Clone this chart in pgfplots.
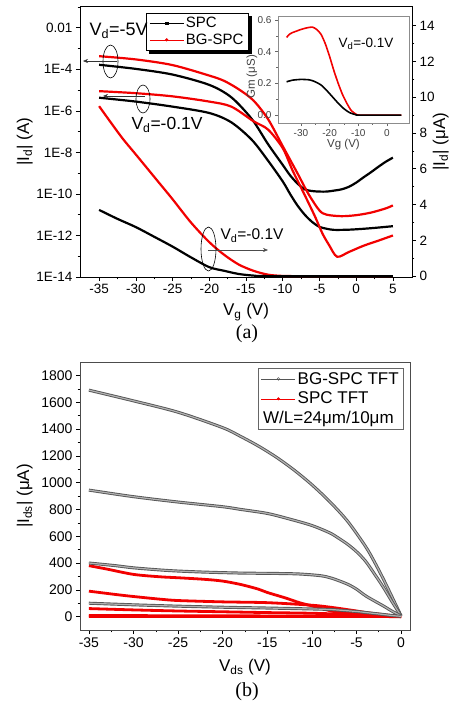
\documentclass[border=0pt]{standalone}
\usepackage{fontspec}
\setmainfont{Liberation Sans}
\newfontfamily\serif{Liberation Serif}
\usepackage{pgfplots}
\pgfplotsset{compat=1.18}
\usetikzlibrary{arrows.meta}
\definecolor{ored}{HTML}{F20000}
\definecolor{bgray}{HTML}{555555}

\newcommand\fs[1]{\fontsize{#1}{#1}\selectfont}

\pgfplotsset{
  ax/.style={scale only axis, /pgf/number format/assume math mode=true,
    axis line style={line width=0.7pt}, tick style={line width=0.6pt, black},
    major tick length=4pt, minor tick length=2.3pt, tick align=outside,
    tick label style={font=\fs{13.5}}, label style={font=\fs{17}}},
  leg/.style={legend cell align=left, legend image code/.code={\draw[mark repeat=2,mark phase=2,##1]
    plot coordinates {(0pt,0pt) (17pt,0pt) (34pt,0pt)};}},
}

\begin{document}
\begin{tikzpicture}
\useasboundingbox (0pt,0pt) rectangle (452pt,-702pt);

% ---- (a) log axis
\begin{axis}[ax, leg, at={(80pt,-277pt)}, anchor=south west, width=332pt, height=271pt,
  xmin=-37.6, xmax=7.6, ymode=log, ymin=1e-14, ymax=0.112, tick pos=left,
  xtick={-35,-30,...,5}, minor x tick num=1,
  ytick={1e-14,1e-12,1e-10,1e-8,1e-6,1e-4,1e-2},
  yticklabels={1E-14,1E-12,1E-10,1E-8,1E-6,1E-4,0.01},
  minor ytick={1e-13,1e-11,1e-9,1e-7,1e-5,1e-3,1e-1},
  xlabel={V\textsubscript{g} (V)}, ylabel={|I\textsubscript{d}| (A)},
  xlabel style={at={(axis description cs:0.5,-0.13)}, anchor=center},
  ylabel style={at={(axis description cs:-0.166,0.5)}, anchor=center},
  legend style={name=legA, at={(0.199,0.974)}, anchor=north west, draw=black, line width=0.6pt,
    font=\fs{15}, inner xsep=3pt, inner ysep=2pt, row sep=0.5pt},
  every axis plot/.append style={line width=2.2pt, smooth, tension=0.5}]
\addlegendimage{black, line width=0.6pt, mark=square*, mark size=1.3pt}
\addlegendentry{SPC}
\addlegendimage{ored, line width=0.6pt, mark=*, mark size=1.3pt}
\addlegendentry{BG-SPC}
% SPC, Vd=-5V
\addplot[black, forget plot] coordinates {(-35,1.66e-4) (-30,1.05e-4) (-25,5.6e-5) (-20,1.78e-5)
  (-17,4.5e-6) (-14.2,4.0e-7) (-12,2.5e-8) (-10,2.5e-9) (-9,7.9e-10) (-8,3.2e-10) (-7,1.66e-10)
  (-6,1.38e-10) (-5,1.3e-10) (-4,1.3e-10) (-3,1.45e-10) (-2,1.66e-10) (-1,2.2e-10) (0,3.5e-10)
  (1,6.3e-10) (2,1.1e-9) (3,2.0e-9) (4,3.5e-9) (5,5.6e-9)};
% SPC, Vd=-0.1V
\addplot[black, forget plot] coordinates {(-35,4.3e-6) (-30,2.8e-6) (-25,1.6e-6) (-20,7.9e-7)
  (-17,2.8e-7) (-14.2,4.0e-8) (-12,4.0e-9) (-10,4.0e-10) (-9,1.0e-10) (-8,2.8e-11) (-7,1.0e-11)
  (-6,4.5e-12) (-5,2.6e-12) (-4,2.1e-12) (-3,1.86e-12) (-1,1.9e-12) (1,2.1e-12) (3,2.4e-12) (5,2.8e-12)};
% BG-SPC, Vd=-5V
\addplot[ored, forget plot] coordinates {(-35,4.3e-4) (-30,3.0e-4) (-25,1.6e-4) (-20,5.0e-5)
  (-18,2.8e-5) (-16,1.1e-5) (-14,3.2e-6) (-12,4.0e-7) (-10,2.0e-8) (-8,1.0e-9) (-6.5,1.0e-10)
  (-5,1.6e-11) (-4,1.0e-11) (-2,8.5e-12) (0,9.5e-12) (2,1.26e-11) (4,2.0e-11) (5,2.8e-11)};
% BG-SPC, Vd=-0.1V
\addplot[ored, forget plot] coordinates {(-35,8.9e-6) (-30,7.1e-6) (-25,5.0e-6) (-20,2.8e-6)
  (-17,1.6e-6) (-14,3.2e-7) (-12,1.26e-7) (-10,1.6e-8) (-8.7,1.45e-9) (-7.5,2.0e-10) (-6.9,7.4e-11)
  (-5.6,8.1e-12) (-4.6,1.26e-12) (-3.7,3.5e-13) (-2.6,9.5e-14) (-1,1.6e-13) (1,3.2e-13)
  (3,5.6e-13) (5,1.0e-12)};
\end{axis}
% legend shadow
\fill[black] ([xshift=3pt]legA.south west) rectangle ([xshift=3.5pt,yshift=-3.5pt]legA.south east);
\fill[black] ([yshift=-3pt]legA.north east) rectangle ([xshift=3.5pt,yshift=-3.5pt]legA.south east);

% ---- (a) linear right axis
\begin{axis}[ax, at={(80pt,-277pt)}, anchor=south west, width=332pt, height=271pt,
  xmin=-37.6, xmax=7.6, ymin=-0.05, ymax=15.1,
  axis y line*=right, axis x line=none,
  ytick={0,2,...,14}, minor y tick num=1,
  ylabel={|I\textsubscript{d}| (μA)},
  ylabel style={at={(axis description cs:1.087,0.5)}, anchor=center},
  every axis plot/.append style={line width=2.2pt, smooth, tension=0.5}]
\addplot[ored] coordinates {(-35,9.5) (-32,7.8) (-30,6.8) (-27,5.3) (-25,4.3) (-22.5,3.0)
  (-20,1.9) (-18,1.2) (-16,0.65) (-14,0.3) (-12,0.08) (-10,0.01) (-8,0) (0,0) (5,0)};
\addplot[black] coordinates {(-35,3.7) (-32.5,3.2) (-30,2.74) (-27.5,2.2) (-25,1.65)
  (-22.5,1.05) (-20,0.5) (-18,0.3) (-16,0.12) (-14,0.03) (-12,0) (0,0) (5,0)};
\end{axis}

% ---- (a) inset
\begin{axis}[ax, at={(278pt,-123pt)}, anchor=south west, width=131pt, height=107pt,
  xmin=-38, xmax=7.7, ymin=-0.05, ymax=0.625, tick pos=left,
  axis background/.style={fill=white},
  axis line style={black!45, line width=0.6pt}, tick style={black!60, line width=0.5pt},
  major tick length=3pt, minor tick length=1.8pt,
  xtick={-30,-20,-10,0}, ytick={0,0.2,0.4,0.6}, minor x tick num=1, minor y tick num=1,
  yticklabel style={/pgf/number format/fixed, /pgf/number format/precision=1,
    /pgf/number format/fixed zerofill},
  tick label style={font=\fs{10}, text=black!75},
  label style={font=\fs{11.5}, text=black!75},
  xlabel={Vg (V)}, ylabel={Gm (μS)},
  xlabel style={at={(axis description cs:0.5,-0.2)}, anchor=center},
  ylabel style={at={(axis description cs:-0.2,0.43)}, anchor=center},
  every axis plot/.append style={line width=1.6pt, smooth, tension=0.4}]
\addplot[ored] coordinates {(-35,0.49) (-34,0.51) (-33,0.52) (-31.5,0.53) (-30,0.54) (-28,0.55)
  (-26,0.555) (-24.5,0.54) (-23,0.51) (-21.5,0.45) (-20,0.37) (-18.5,0.28) (-17,0.2)
  (-15.5,0.13) (-14,0.075) (-12.5,0.03) (-11,0.008) (-9.5,0) (0,0) (5,0)};
\addplot[black] coordinates {(-35,0.21) (-33,0.22) (-30,0.225) (-27,0.222) (-25,0.21)
  (-23,0.19) (-21,0.155) (-19,0.115) (-17,0.075) (-15,0.04) (-13,0.015) (-11,0.003)
  (-10,0) (0,0) (5,0)};
\end{axis}

% annotations (a)
\node[anchor=west, font=\fs{18}] at (86pt,-31pt) {V\textsubscript{d}=-5V};
\draw[line width=0.6pt] (110.5pt,-61.5pt) ellipse [x radius=7.5pt, y radius=16.5pt];
\draw[line width=0.5pt, black!80, -{Stealth[length=5pt,width=4pt]}] (117pt,-61pt) -- (83pt,-61pt);
\node[anchor=west, font=\fs{17.5}] at (128pt,-125pt) {V\textsubscript{d}=-0.1V};
\draw[line width=0.6pt] (143pt,-99pt) ellipse [x radius=7pt, y radius=14pt];
\draw[line width=0.5pt, black!80, -{Stealth[length=5pt,width=4pt]}] (145pt,-96pt) -- (103pt,-96pt);
\draw[line width=0.6pt] (208.5pt,-249pt) ellipse [x radius=7.5pt, y radius=22pt];
\draw[line width=0.5pt, black!70, -{Stealth[length=5pt,width=4pt]}] (208pt,-250pt) -- (268pt,-250pt);
\node[anchor=west, font=\fs{15.5}] at (217pt,-236pt) {V\textsubscript{d}=-0.1V};
\node[font=\fs{13.5}] at (366pt,-44pt) {V\textsubscript{d}=-0.1V};
\node[font=\serif\fs{20}] at (247pt,-334pt) {(a)};

% ---- (b)
\begin{axis}[ax, leg, at={(80pt,-630pt)}, anchor=south west, width=330pt, height=268pt,
  xmin=-36, xmax=1, ymin=-100, ymax=1900, tick pos=left,
  axis line style={black!70},
  xtick={-35,-30,...,0}, minor x tick num=1, ytick={0,200,...,1800}, minor y tick num=1,
  yticklabel style={/pgf/number format/1000 sep={}},
  tick label style={font=\fs{14}},
  xlabel={V\textsubscript{ds} (V)}, ylabel={|I\textsubscript{ds}| (μA)},
  xlabel style={at={(axis description cs:0.5,-0.138)}, anchor=center},
  ylabel style={at={(axis description cs:-0.167,0.5)}, anchor=center},
  legend style={name=legB, at={(0.982,0.978)}, anchor=north east, draw=black!60, line width=0.6pt,
    font=\fs{17}, inner xsep=3pt, inner ysep=2pt, row sep=2.5pt},
  every axis plot/.append style={smooth, tension=0.5}]
\addlegendimage{bgray, line width=0.5pt, mark=o, mark size=1.3pt}
\addlegendentry{BG-SPC TFT}
\addlegendimage{ored, line width=0.5pt, mark=*, mark size=1.2pt}
\addlegendentry{SPC TFT}
\addlegendimage{empty legend}
\addlegendentry{\strut}
% SPC TFT
\addplot[ored, line width=2.8pt, forget plot] coordinates {(-35,380) (-33,355) (-30,315) (-27,297)
  (-25,290) (-22,278) (-20,265) (-18,240) (-16,205) (-15,180) (-13,140) (-11.4,104) (-10,80)
  (-7.7,40) (-6,25) (-3.9,15) (-2,8) (0,0)};
\addplot[ored, line width=2.8pt, forget plot] coordinates {(-35,190) (-32,165) (-30,150) (-27,130)
  (-25,120) (-20,110) (-15,104) (-10,85) (-7.7,68) (-5,42) (-3.9,30) (-2,15) (0,0)};
\addplot[ored, line width=2.8pt, forget plot] coordinates {(-35,60) (-30,50) (-25,42) (-20,36)
  (-15,30) (-10,25) (-5,15) (-2,6) (0,0)};
\addplot[ored, line width=2.8pt, forget plot] coordinates {(-35,8) (-20,6) (-10,4) (0,0)};
\addplot[ored, line width=2.8pt, forget plot] coordinates {(-35,1) (-20,1) (-10,0.5) (0,0)};
% BG-SPC TFT
\pgfplotsset{bgline/.style={bgray, line width=0.9pt, double=bgray!45, double distance=1.2pt, forget plot}}
\addplot[bgline] coordinates {(-35,1690) (-30,1610) (-25,1525) (-20,1410) (-18,1345) (-16,1273)
  (-14,1190) (-12,1094) (-10,984) (-8,858) (-6,712) (-4,525) (-3,410) (-2,282) (-1,145) (0,5)};
\addplot[bgline] coordinates {(-35,944) (-30,895) (-25,855) (-20,820) (-18,800) (-15,770)
  (-12.5,728) (-10,680) (-8,625) (-7,585) (-6,540) (-5,485) (-4,415) (-3,320) (-2,220) (-1,110) (0,5)};
\addplot[bgline] coordinates {(-35,400) (-32,380) (-30,364) (-27,348) (-25,340) (-22,332) (-18,325)
  (-14,322) (-11.4,318) (-9,305) (-7.7,285) (-6,242) (-5,205) (-3.9,152) (-2,80) (-1,40) (0,5)};
\addplot[bgline] coordinates {(-35,100) (-30,88) (-25,78) (-20,70) (-15,64) (-10,57) (-7.7,52)
  (-5,38) (-3.9,30) (-2,16) (-1,8) (0,2)};
\end{axis}
\node[anchor=south west, font=\fs{17}, inner sep=0pt] at ([xshift=5pt,yshift=3pt]legB.south west) {W/L=24μm/10μm};
\node[font=\serif\fs{20}] at (247pt,-692pt) {(b)};
\end{tikzpicture}
\end{document}
